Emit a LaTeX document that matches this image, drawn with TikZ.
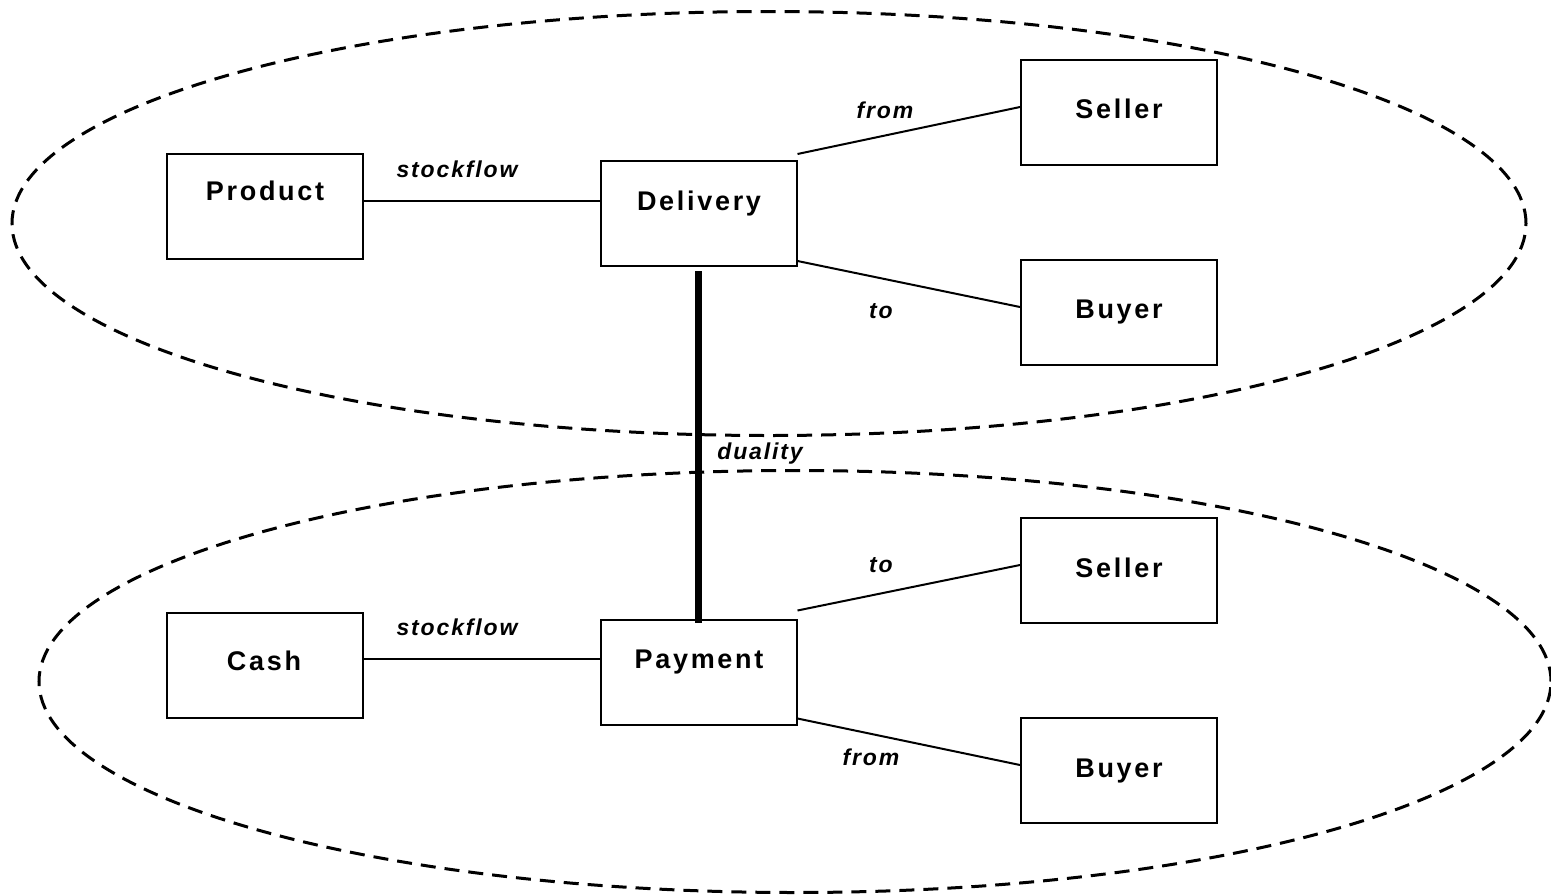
\documentclass[tikz,border=0pt]{standalone}
\usepackage{fontspec}
\setmainfont{Liberation Sans}
\newfontfamily\boxfont[LetterSpace=10]{Liberation Sans}
\newfontfamily\lblfont[LetterSpace=8]{Liberation Sans}
\usetikzlibrary{calc}
\begin{document}
\begin{tikzpicture}[x=1pt,y=-1pt,
  box/.style={draw, line width=2pt, rectangle, minimum width=196pt, minimum height=105pt, inner sep=0pt},
  boxtext/.style={anchor=base, inner sep=0pt, font=\boxfont\bfseries\fontsize{27}{30}\selectfont},
  lbl/.style={anchor=base, inner sep=0pt, font=\lblfont\bfseries\itshape\fontsize{23}{26}\selectfont},
  conn/.style={line width=2pt},
  group/.style={dashed, line width=3pt, dash pattern=on 15pt off 9pt}]
\useasboundingbox (0,0) rectangle (1551,895);
% groups
\draw[group] (769,223.5) ellipse [x radius=757pt, y radius=212pt];
\draw[group] (795,681.5) ellipse [x radius=756pt, y radius=211pt];
% boxes
\node[box] (prod) at (265,206.5) {};
\node[box] (deliv) at (698.5,213.5) {};
\node[box] (sellT) at (1119,112.5) {};
\node[box] (buyT) at (1119,312.5) {};
\node[box] (cash) at (265,665) {};
\node[box] (pay) at (698.5,672) {};
\node[box] (sellB) at (1119,570.5) {};
\node[box] (buyB) at (1119,770.5) {};
% box texts
\node[boxtext] (tprod) at (265,200) {Product};
\node[boxtext] (tdeliv) at (699,210) {Delivery};
\node[boxtext] (tsellT) at (1119,118) {Seller};
\node[boxtext] (tbuyT) at (1119,318) {Buyer};
\node[boxtext] (tcash) at (264,670) {Cash};
\node[boxtext] (tpay) at (699,668) {Payment};
\node[boxtext] (tsellB) at (1119,577) {Seller};
\node[boxtext] (tbuyB) at (1119,777) {Buyer};
% connector end points
\coordinate (pe) at ($(prod.east)+(0,-5.5)$);
\coordinate (ce) at ($(cash.east)+(0,-6)$);
% connectors
\draw[conn] (pe) -- (pe -| deliv.west);
\draw[conn] ($(deliv.north east)+(0,-6)$) -- ($(sellT.west)+(0,-5.5)$);
\draw[conn] ($(deliv.south east)+(0,-6)$) -- ($(buyT.west)+(0,-5.5)$);
\draw[conn] (ce) -- (ce -| pay.west);
\draw[conn] ($(pay.north east)+(0,-8)$) -- ($(sellB.west)+(0,-5.5)$);
\draw[conn] ($(pay.south east)+(0,-7)$) -- ($(buyB.west)+(0,-5.5)$);
\draw[line width=7pt] ($(deliv.south)+(0,4)$) -- ($(pay.north)+(0,4)$);
% labels
\node[lbl] (l1) at (457,177) {stockflow};
\node[lbl] (l2) at (885,118) {from};
\node[lbl] (l3) at (881,318) {to};
\node[lbl] (l4) at (760,459) {duality};
\node[lbl] (l5) at (881,572) {to};
\node[lbl] (l6) at (457,635) {stockflow};
\node[lbl] (l7) at (871,765) {from};
\end{tikzpicture}
\end{document}
